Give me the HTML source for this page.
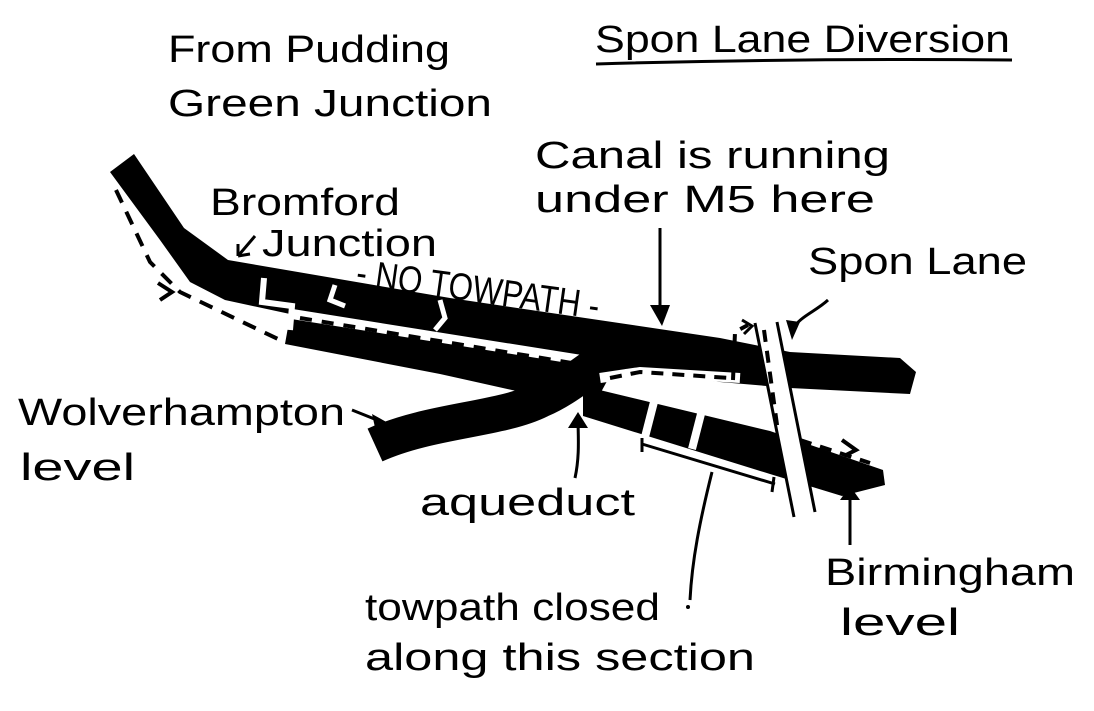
<!DOCTYPE html>
<html><head><meta charset="utf-8"><style>
html,body{margin:0;padding:0;background:#fff;}
svg{display:block;}
text{font-family:"Liberation Sans",sans-serif;fill:#000;font-size:38px;}
</style></head><body>
<svg width="1094" height="711" viewBox="0 0 1094 711" xmlns="http://www.w3.org/2000/svg">
<text x="168" y="62" textLength="282" lengthAdjust="spacingAndGlyphs">From Pudding</text>
<text x="168" y="116" textLength="324" lengthAdjust="spacingAndGlyphs">Green Junction</text>
<text x="595" y="52" textLength="415" lengthAdjust="spacingAndGlyphs">Spon Lane Diversion</text>
<path d="M596 64 Q800 58 1012 60" stroke="#000" stroke-width="3" fill="none"/>
<text x="535" y="168" textLength="355" lengthAdjust="spacingAndGlyphs">Canal is running</text>
<text x="535" y="212" textLength="340" lengthAdjust="spacingAndGlyphs">under M5 here</text>
<text x="210" y="215" textLength="190" lengthAdjust="spacingAndGlyphs">Bromford</text>
<text x="262" y="256" textLength="175" lengthAdjust="spacingAndGlyphs">Junction</text>
<text x="808" y="274" textLength="219" lengthAdjust="spacingAndGlyphs">Spon Lane</text>
<text x="18" y="425" textLength="327" lengthAdjust="spacingAndGlyphs">Wolverhampton</text>
<text x="20" y="480" textLength="115" lengthAdjust="spacingAndGlyphs">level</text>
<text x="420" y="515" textLength="215" lengthAdjust="spacingAndGlyphs">aqueduct</text>
<text x="365" y="620" textLength="295" lengthAdjust="spacingAndGlyphs">towpath closed</text>
<text x="365" y="670" textLength="390" lengthAdjust="spacingAndGlyphs">along this section</text>
<text x="825" y="585" textLength="250" lengthAdjust="spacingAndGlyphs">Birmingham</text>
<text x="840" y="635" textLength="120" lengthAdjust="spacingAndGlyphs">level</text>
<text x="355" y="285" font-size="22" transform="rotate(8 355 285)" textLength="245" lengthAdjust="spacingAndGlyphs">- NO TOWPATH -</text>

<!-- upper canal -->
<polygon points="110,172 134,154 184,228 228,260 450,298 720,338 790,352 900,358 916,372 910,394 790,388 720,382 620,368 450,338 290,314 225,300 190,282 160,240" fill="#000"/>
<!-- lower channel -->
<polygon points="290,316 590,360 612,372 600,394 530,394 440,374 285,344" fill="#000"/>
<path d="M292 314 L600 363" stroke="#fff" stroke-width="10"/>
<path d="M300 318 L590 366" stroke="#000" stroke-width="4" stroke-dasharray="12 10"/>
<path d="M264 278 L262 302 L292 306 L290 330" stroke="#fff" stroke-width="6" fill="none"/>
<path d="M335 285 L330 300 L345 306" stroke="#fff" stroke-width="5" fill="none"/>
<path d="M440 300 L445 318 L435 330" stroke="#fff" stroke-width="5" fill="none"/>
<!-- aqueduct -->
<path d="M375 445 C430 420 500 420 540 400 C575 385 595 360 625 350" stroke="#000" stroke-width="36" fill="none"/>
<!-- lower right -->
<polygon points="583,386 770,431 883,470 885,485 842,496 770,474 583,416" fill="#000"/>
<path d="M655 398 L645 437" stroke="#fff" stroke-width="8"/>
<path d="M702 410 L692 449" stroke="#fff" stroke-width="8"/>
<path d="M600 378 L640 372 L740 378" stroke="#fff" stroke-width="10" fill="none"/>
<path d="M610 378 L640 372 L730 378" stroke="#000" stroke-width="4" stroke-dasharray="12 9" fill="none"/>
<!-- Spon Lane road -->
<polygon points="755,323 777,322 815,512 794,517" fill="#fff"/>
<path d="M755 323 L794 517 M777 322 L815 512" stroke="#000" stroke-width="3"/>
<path d="M764 330 L778 432" stroke="#000" stroke-width="4" stroke-dasharray="12 9"/>
<path d="M733 380 L735 332 L748 325" stroke="#000" stroke-width="4" stroke-dasharray="10 8" fill="none"/>
<path d="M742 320 L752 326 L744 334" stroke="#000" stroke-width="3" fill="none"/>
<!-- dashed towpaths -->
<path d="M116 190 L150 262 L180 292 L280 340" stroke="#000" stroke-width="4" stroke-dasharray="14 10" fill="none"/>
<path d="M158 283 L172 292 L160 300" stroke="#000" stroke-width="4" fill="none"/>
<path d="M800 440 L870 463" stroke="#000" stroke-width="4" stroke-dasharray="12 9" fill="none"/>
<path d="M842 440 L856 450 L844 456" stroke="#000" stroke-width="4" fill="none"/>
<!-- bracket -->
<path d="M642 444 L775 484 M642 438 L642 452 M774 477 L772 492" stroke="#000" stroke-width="3" fill="none"/>
<path d="M712 472 C700 520 692 560 690 600" stroke="#000" stroke-width="3" fill="none"/>
<circle cx="688" cy="607" r="2" fill="#000"/>
<!-- arrows -->
<path d="M660 228 L660 318" stroke="#000" stroke-width="3"/>
<polygon points="650,305 670,305 662,326" fill="#000"/>
<path d="M828 300 C815 312 800 316 792 330" stroke="#000" stroke-width="3" fill="none"/>
<polygon points="786,320 800,322 792,340" fill="#000"/>
<path d="M850 545 L850 492" stroke="#000" stroke-width="3"/>
<polygon points="840,500 860,500 850,486" fill="#000"/>
<path d="M575 478 C580 455 578 435 578 418" stroke="#000" stroke-width="3" fill="none"/>
<polygon points="568,428 588,428 578,412" fill="#000"/>
<path d="M352 410 L382 422" stroke="#000" stroke-width="3"/>
<polygon points="372,414 390,424 376,432" fill="#000"/>
<path d="M255 236 L238 256 M238 256 L250 254 M238 256 L238 244" stroke="#000" stroke-width="3" fill="none"/>
</svg>
</body></html>
